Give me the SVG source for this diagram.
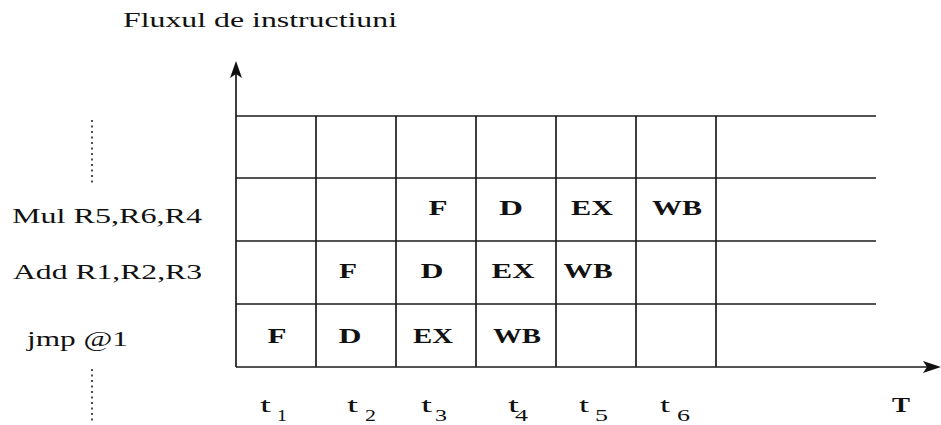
<svg xmlns="http://www.w3.org/2000/svg" width="941" height="425" viewBox="0 0 941 425">
<style>
.ln{stroke:#1a1a1a;stroke-width:1.7;fill:none}
.dot{stroke:#222;stroke-width:1.6;stroke-dasharray:2,3.5;fill:none}
.ah{fill:#111;stroke:none}
.t{font-family:"Liberation Serif",serif;fill:#111}
.reg{font-size:22px}
.cell{font-size:21px;font-weight:bold;text-anchor:middle}
.tt{font-size:22px}
.sub{font-size:17px}
</style>
<rect width="941" height="425" fill="#fff"/>
<text class="t" x="123" y="27" font-size="20" textLength="274" lengthAdjust="spacingAndGlyphs">Fluxul de instructiuni</text>
<g id="grid">
<line class="ln" x1="236" y1="116" x2="876" y2="116"/>
<line class="ln" x1="236" y1="178" x2="876" y2="178"/>
<line class="ln" x1="236" y1="241" x2="876" y2="241"/>
<line class="ln" x1="236" y1="304" x2="876" y2="304"/>
<line class="ln" x1="316" y1="116" x2="316" y2="367"/>
<line class="ln" x1="396" y1="116" x2="396" y2="367"/>
<line class="ln" x1="476" y1="116" x2="476" y2="367"/>
<line class="ln" x1="556" y1="116" x2="556" y2="367"/>
<line class="ln" x1="636" y1="116" x2="636" y2="367"/>
<line class="ln" x1="716" y1="116" x2="716" y2="367"/>
</g>
<g id="connectors">
<line class="ln" x1="236" y1="72" x2="236" y2="367"/>
<polygon class="ah" points="236,61 242,78 236,74 230,78"/>
<line class="ln" x1="236" y1="367" x2="930" y2="367"/>
<polygon class="ah" points="941,367 923,361 927,367 923,373"/>
<line class="dot" x1="92" y1="120" x2="92" y2="185"/>
<line class="dot" x1="92" y1="369" x2="92" y2="421"/>
</g>
<g id="row-mul">
<text class="t reg" x="12" y="223" textLength="190" lengthAdjust="spacingAndGlyphs">Mul R5,R6,R4</text>
<text class="t cell" x="438" y="215" textLength="19" lengthAdjust="spacingAndGlyphs">F</text>
<text class="t cell" x="511" y="215" textLength="24" lengthAdjust="spacingAndGlyphs">D</text>
<text class="t cell" x="592" y="215" textLength="42" lengthAdjust="spacingAndGlyphs">EX</text>
<text class="t cell" x="677" y="215" textLength="50" lengthAdjust="spacingAndGlyphs">WB</text>
</g>
<g id="row-add">
<text class="t reg" x="13" y="279" textLength="189" lengthAdjust="spacingAndGlyphs">Add R1,R2,R3</text>
<text class="t cell" x="348" y="278" textLength="18" lengthAdjust="spacingAndGlyphs">F</text>
<text class="t cell" x="432" y="278" textLength="23" lengthAdjust="spacingAndGlyphs">D</text>
<text class="t cell" x="513" y="278" textLength="43" lengthAdjust="spacingAndGlyphs">EX</text>
<text class="t cell" x="588" y="278" textLength="49" lengthAdjust="spacingAndGlyphs">WB</text>
</g>
<g id="row-jmp">
<text class="t reg" x="27" y="346" textLength="101" lengthAdjust="spacingAndGlyphs">jmp @1</text>
<text class="t cell" x="277" y="343" textLength="19" lengthAdjust="spacingAndGlyphs">F</text>
<text class="t cell" x="350" y="343" textLength="23" lengthAdjust="spacingAndGlyphs">D</text>
<text class="t cell" x="433" y="343" textLength="40" lengthAdjust="spacingAndGlyphs">EX</text>
<text class="t cell" x="517" y="343" textLength="48" lengthAdjust="spacingAndGlyphs">WB</text>
</g>
<g id="time-labels">
<text class="t tt" x="260" y="412" textLength="11" lengthAdjust="spacingAndGlyphs">t</text><text class="t sub" x="277" y="421" textLength="10" lengthAdjust="spacingAndGlyphs">1</text>
<text class="t tt" x="347" y="412" textLength="11" lengthAdjust="spacingAndGlyphs">t</text><text class="t sub" x="365" y="421" textLength="11" lengthAdjust="spacingAndGlyphs">2</text>
<text class="t tt" x="421" y="412" textLength="11" lengthAdjust="spacingAndGlyphs">t</text><text class="t sub" x="435" y="421" textLength="12" lengthAdjust="spacingAndGlyphs">3</text>
<text class="t tt" x="508" y="412" textLength="11" lengthAdjust="spacingAndGlyphs">t</text><text class="t sub" x="515" y="421" textLength="13" lengthAdjust="spacingAndGlyphs">4</text>
<text class="t tt" x="579" y="412" textLength="10" lengthAdjust="spacingAndGlyphs">t</text><text class="t sub" x="595" y="421" textLength="13" lengthAdjust="spacingAndGlyphs">5</text>
<text class="t tt" x="660" y="412" textLength="10" lengthAdjust="spacingAndGlyphs">t</text><text class="t sub" x="677" y="421" textLength="13" lengthAdjust="spacingAndGlyphs">6</text>
<text class="t" x="892" y="412" font-size="21" font-weight="bold" textLength="18" lengthAdjust="spacingAndGlyphs">T</text>
</g>
</svg>
